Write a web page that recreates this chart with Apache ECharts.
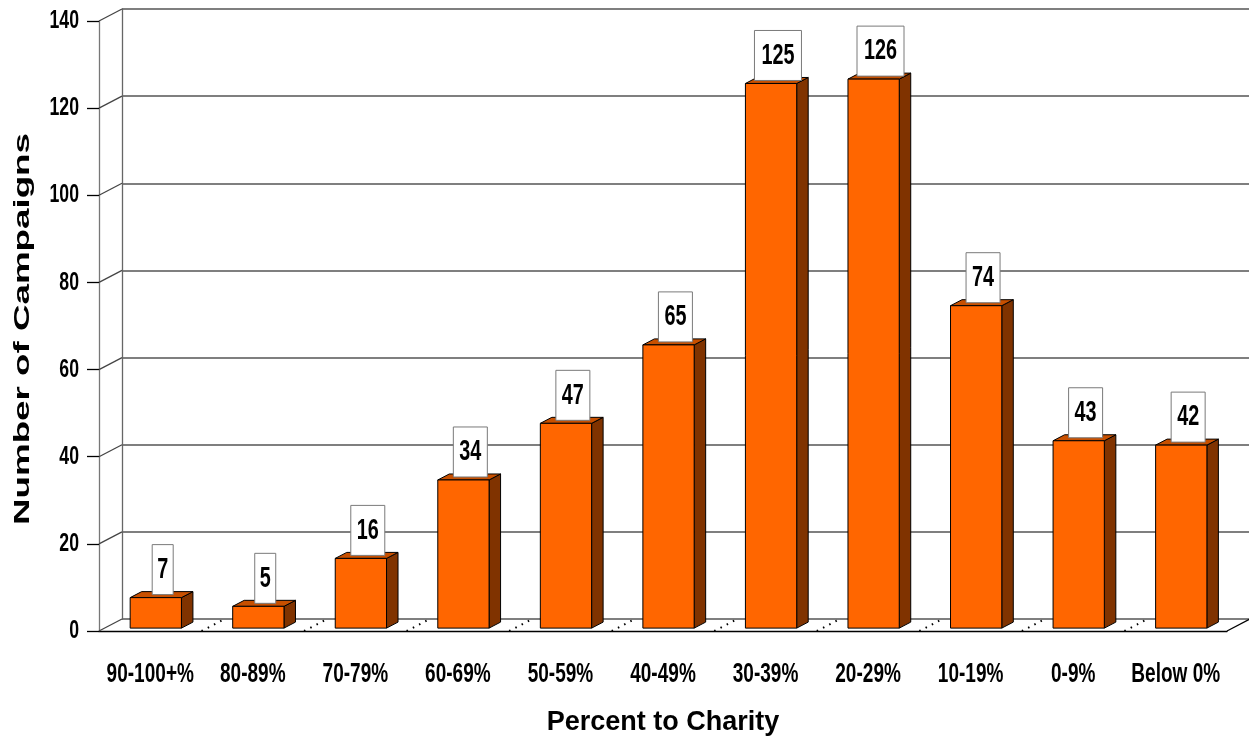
<!DOCTYPE html>
<html><head><meta charset="utf-8">
<script src="https://cdn.jsdelivr.net/npm/echarts@6/dist/echarts.min.js"></script>
<style>html,body{margin:0;padding:0;background:#fff}#c{width:1249px;height:742px}</style>
</head><body><div id="c"></div>
<script>
const categories = ['90-100+%','80-89%','70-79%','60-69%','50-59%','40-49%','30-39%','20-29%','10-19%','0-9%','Below 0%'];
const campaigns = [7, 5, 16, 34, 47, 65, 125, 126, 74, 43, 42];
const yTicks = [0, 20, 40, 60, 80, 100, 120, 140];
const boundaries = [1, 2, 3, 4, 5, 6, 7, 8, 9, 10, 11];

const DX = 23, DY = -12;          // floor depth offset
const F0 = 0.24, F1 = 0.74;       // bar depth span
const FONT = '"Liberation Sans", Arial, sans-serif';

const chart = echarts.init(document.getElementById('c'), null, {renderer: 'canvas'});

function renderBar(params, api) {
  const i = api.value(0), v = api.value(1);
  const base = api.coord([i, 0]);
  const top = api.coord([i, v]);
  const w = api.size([1, 0])[0] * 0.5;
  const x0 = base[0] - w / 2 + DX * F0, x1 = x0 + w;
  const yb = base[1] + DY * F0, yt = top[1] + DY * F0;
  const ox = DX * (F1 - F0), oy = DY * (F1 - F0);
  const txt = String(v);
  const bw = 13 * txt.length + 8, bh = 50;
  const cx = (x0 + x1) / 2 + ox * 0.6;
  const by = yt + oy * 0.5;
  return {
    type: 'group',
    children: [
      {type: 'polygon', shape: {points: [[x1, yb], [x1, yt], [x1 + ox, yt + oy], [x1 + ox, yb + oy]]},
        style: {fill: '#803300', stroke: '#000', lineWidth: 1}},
      {type: 'polygon', shape: {points: [[x0, yt], [x1, yt], [x1 + ox, yt + oy], [x0 + ox, yt + oy]]},
        style: {fill: '#C85000', stroke: '#000', lineWidth: 1}},
      {type: 'rect', shape: {x: x0, y: yt, width: w, height: yb - yt},
        style: {fill: '#FF6600', stroke: '#000', lineWidth: 1}},
      {type: 'rect', shape: {x: cx - bw / 2, y: by - bh, width: bw, height: bh},
        style: {fill: '#fff', stroke: '#7a7a7a', lineWidth: 1}},
      {type: 'text', x: cx, y: by - bh / 2, scaleX: 0.66,
        style: {text: txt, x: 0, y: 0, align: 'center', verticalAlign: 'middle',
          font: 'bold 30px ' + FONT, fill: '#000'}}
    ]
  };
}

function renderConnector(params, api) {
  const v = api.value(0);
  const p = api.coord([0, v]);
  const x = p[0] - api.size([1, 0])[0] / 2;
  return {type: 'group', children: [
    {type: 'line', shape: {x1: x, y1: p[1], x2: x + DX, y2: p[1] + DY},
      style: {stroke: '#444', lineWidth: 1.3}},
    {type: 'text', x: x - 20, y: p[1], scaleX: 0.68,
      style: {text: String(v), x: 0, y: 0, align: 'right', verticalAlign: 'middle',
        font: 'bold 26px ' + FONT, fill: '#000'}}
  ]};
}

function renderCatLabel(params, api) {
  const i = api.value(0);
  const p = api.coord([i, 0]);
  return {type: 'text', x: p[0], y: p[1] + 43, scaleX: 0.68,
    style: {text: categories[i], x: 0, y: 0, align: 'center', verticalAlign: 'middle',
      font: 'bold 28px ' + FONT, fill: '#000'}};
}

function renderFloorLine(params, api) {
  const b = api.value(0);
  const p = api.coord([b, 0]);
  const x = p[0] - api.size([1, 0])[0] / 2;
  const solid = b === categories.length;
  return {type: 'line', shape: {x1: x, y1: p[1], x2: x + DX, y2: p[1] + DY},
    style: solid ? {stroke: '#000', lineWidth: 1.3} : {stroke: '#000', lineWidth: 2, lineDash: [1.5, 5.5]}};
}

const option = {
  backgroundColor: '#fff',
  animation: false,
  grid: [
    {left: 99, right: 22, top: 21, bottom: 111},
    {left: 122, width: 1127, top: 9, bottom: 123}
  ],
  xAxis: [
    {type: 'category', gridIndex: 0, data: categories,
      axisLine: {lineStyle: {color: '#000', width: 1.3}},
      axisTick: {alignWithLabel: true, interval: 0, length: 17, lineStyle: {color: '#777', width: 1.3}},
      axisLabel: {show: false},
      name: 'Percent to Charity', nameLocation: 'middle', nameGap: 78,
      nameTextStyle: {fontFamily: FONT, fontWeight: 'bold', fontSize: 27, color: '#000'}},
    {type: 'category', gridIndex: 1, data: categories, show: true,
      axisLine: {show: false}, axisTick: {show: false}, axisLabel: {show: false}}
  ],
  yAxis: [
    {type: 'value', gridIndex: 0, min: 0, max: 140, interval: 20,
      axisLine: {show: true, lineStyle: {color: '#777', width: 1.3}},
      axisTick: {show: true, length: 12, lineStyle: {color: '#000', width: 1.3}},
      axisLabel: {show: false},
      splitLine: {show: false}},
    {type: 'value', gridIndex: 1, min: 0, max: 140, interval: 20,
      axisLine: {show: true, lineStyle: {color: '#666', width: 1.3}},
      axisTick: {show: false}, axisLabel: {show: false},
      splitLine: {show: true, lineStyle: {color: '#555', width: 1.5}}}
  ],
  graphic: [
    {type: 'text', x: 23, y: 329, rotation: Math.PI / 2, scaleX: 1.67, z: 100,
      style: {text: 'Number of Campaigns', x: 0, y: 0, align: 'center', verticalAlign: 'middle',
        font: 'bold 22px ' + FONT, fill: '#000'}}
  ],
  series: [
    {type: 'custom', xAxisIndex: 0, yAxisIndex: 0, renderItem: renderConnector,
      data: yTicks.map(v => [v]), z: 2, silent: true},
    {type: 'custom', xAxisIndex: 0, yAxisIndex: 0, renderItem: renderFloorLine,
      data: boundaries.map(b => [b]), z: 2, silent: true},
    {type: 'custom', xAxisIndex: 0, yAxisIndex: 0, renderItem: renderCatLabel,
      data: categories.map((c, i) => [i]), z: 2, silent: true},
    {type: 'custom', xAxisIndex: 0, yAxisIndex: 0, renderItem: renderBar,
      data: campaigns.map((v, i) => [i, v]), z: 5}
  ]
};
chart.setOption(option);
</script>
</body></html>
